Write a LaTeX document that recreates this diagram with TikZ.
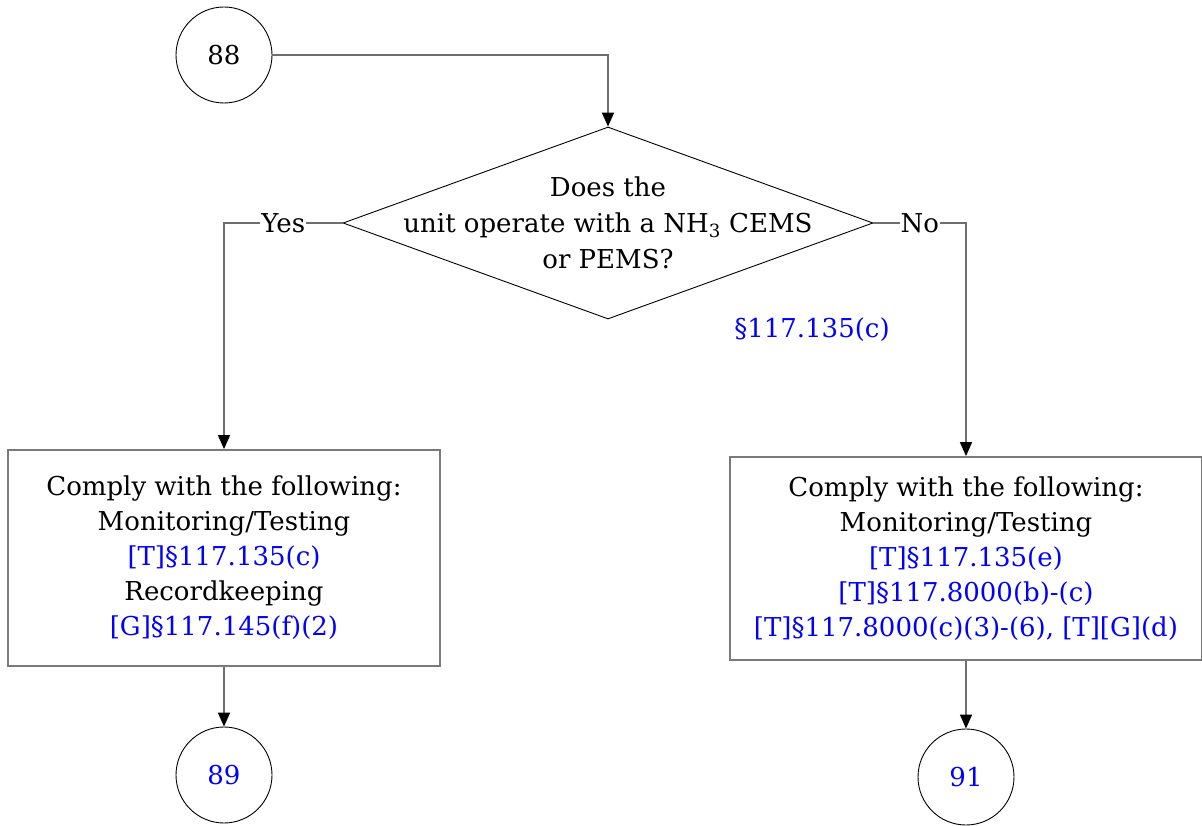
\documentclass[tikz,border=0pt]{standalone}
\usepackage{fontspec}
\setmainfont{DejaVu Serif}
\usepackage{xcolor}
\usetikzlibrary{arrows.meta,positioning,calc,shapes.geometric}
\definecolor{Ink}{HTML}{000000}
\definecolor{Frame}{HTML}{7A7A7A}
\definecolor{Wire}{HTML}{6E6E6E}
\definecolor{RefBlue}{HTML}{0000FF}
\tikzset{
  txt/.style={font=\fontsize{26}{35}\selectfont,text=Ink,align=center},
  conn/.style={circle,draw=Ink,line width=0.9pt,minimum size=96pt,inner sep=0pt,txt},
  decision/.style={diamond,draw=Ink,line width=0.9pt,aspect=2.76,minimum width=530pt,minimum height=192pt,inner sep=-25pt,txt,font=\fontsize{26}{36}\selectfont},
  rulebox/.style={draw=Frame,line width=1.8pt,fill=white,minimum height=216pt,inner sep=0pt,txt},
  arr/.style={-{Triangle[length=14pt,width=12pt,color=Ink]},draw=Wire,line width=1.6pt},
  lbl/.style={fill=white,inner sep=1pt,txt},
  ref/.style={text=RefBlue}
}

\begin{document}
\begin{tikzpicture}[x=1pt,y=-1pt]
  \useasboundingbox (0,0) rectangle (1202,826);
  \node[conn] (c88) at (224,55) {88};
  \node[decision] (q) at (608,223) {Does the\\unit operate with a NH\textsubscript{3} CEMS\\or PEMS?};
  \node[txt,ref] (qref) at (812,330) {§117.135(c)};
  \node[rulebox,minimum width=432pt] (yesbox) at (224,558) {Comply with the following:\\Monitoring/Testing\\{\color{RefBlue}[T]§117.135(c)}\\Recordkeeping\\{\color{RefBlue}[G]§117.145(f)(2)}};
  \node[rulebox,minimum width=472pt,minimum height=203pt] (nobox) at (966,558.5) {Comply with the following:\\Monitoring/Testing\\{\color{RefBlue}[T]§117.135(e)}\\{\color{RefBlue}[T]§117.8000(b)-(c)}\\{\color{RefBlue}[T]§117.8000(c)(3)-(6), [T][G](d)}};
  \node[conn,ref] (c89) at (224,775) {89};
  \node[conn,ref] (c91) at (966,777) {91};
  \draw[arr] (c88) -| (q);
  \draw[arr] (q) -| node[lbl,pos=0.25] {Yes} (yesbox);
  \draw[arr] (q) -| node[lbl,pos=0.25] {No} (nobox);
  \draw[arr] (yesbox) -- (c89);
  \draw[arr] (nobox) -- (c91);
\end{tikzpicture}
\end{document}
